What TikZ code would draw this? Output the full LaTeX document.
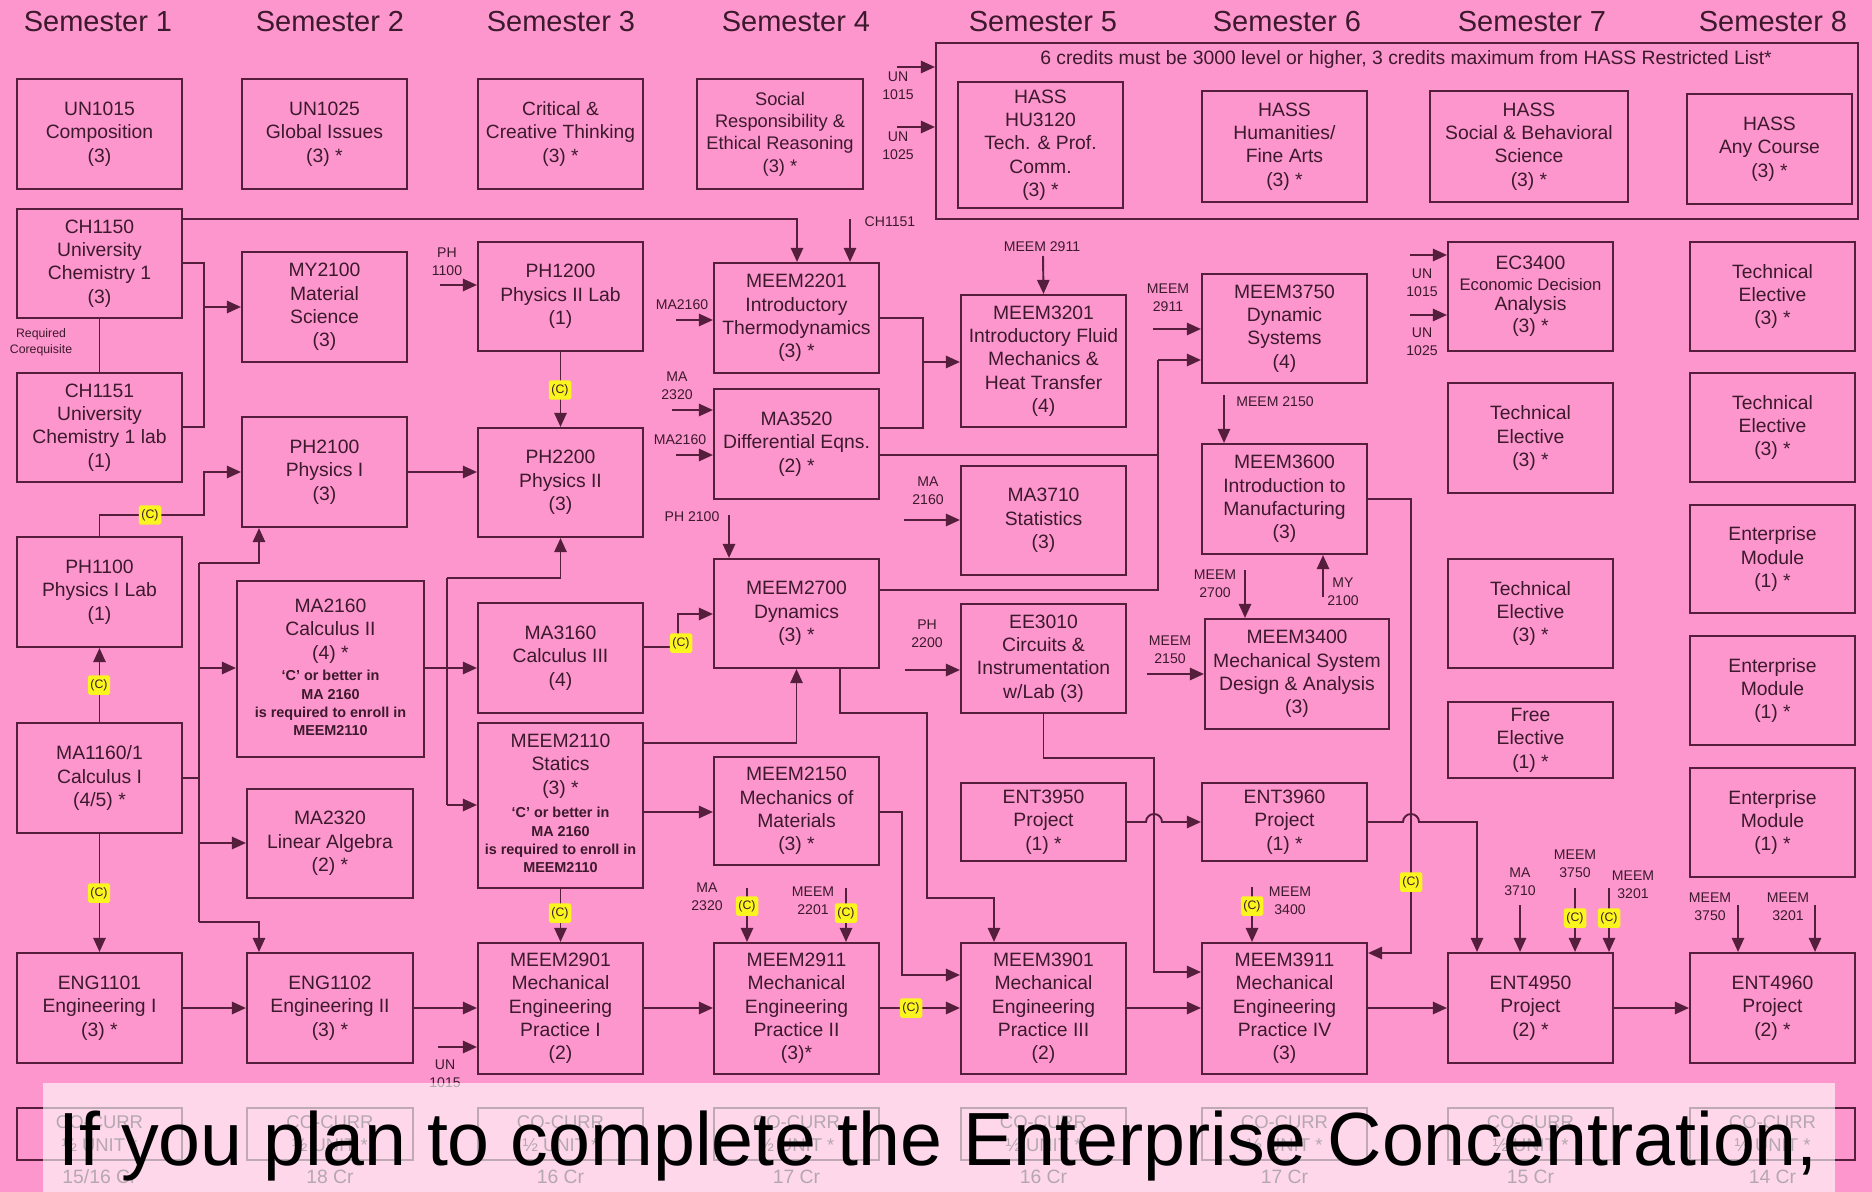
\documentclass[tikz,border=0pt]{standalone}
\usepackage{fontspec}
\setmainfont{Liberation Sans}
\usetikzlibrary{arrows.meta,fit}
\definecolor{bg}{RGB}{253,150,205}
\definecolor{lc}{RGB}{85,30,60}
\definecolor{tc}{RGB}{60,25,45}
\definecolor{yel}{RGB}{250,245,30}
\newcommand\bxf{\fontsize{11}{13.3}\selectfont}
\newcommand\smf{\fontsize{8}{10}\selectfont}
\newcommand\tnf{\fontsize{8.2}{10.4}\selectfont\bfseries}
\newcommand\cbx[7][]{\node[boxf,fit={(#3,#4)(#5,#6)}] (#2) {};
  \node[boxt,#1] (#2t) at (#2.center) {#7};}
\begin{document}
\begin{tikzpicture}[x=0.02cm,y=-0.02cm,
  boxf/.style={draw=lc,line width=1.2pt,inner sep=0pt},
  boxt/.style={inner sep=0pt,align=center,text=tc,font=\bxf},
  tiny/.style={inner sep=0pt,align=center,text=tc,font=\tnf},
  ln/.style={draw=lc,line width=1.1pt},
  arr/.style={draw=lc,line width=1.1pt,-{Triangle[length=8pt,width=7pt]}},
  cc/.style={fill=yel,text=tc,font=\fontsize{7}{8}\selectfont,inner sep=0pt,minimum width=0.45cm,minimum height=0.39cm,rounded corners=1pt},
  lab/.style={text=tc,font=\smf,align=center,inner sep=0pt},
  sem/.style={text=tc,font=\fontsize{16.5}{18}\selectfont,anchor=base,inner sep=0pt},
  crl/.style={text=tc,font=\fontsize{11}{13}\selectfont,inner sep=0pt}]
\fill[bg] (0,0) rectangle (1872,1192);
\useasboundingbox (0,0) rectangle (1872,1192);
% semester headers
\node[sem] (s1) at (98,32) {Semester 1};
\node[sem] (s2) at (330,32) {Semester 2};
\node[sem] (s3) at (561,32) {Semester 3};
\node[sem] (s4) at (796,32) {Semester 4};
\node[sem] (s5) at (1043,32) {Semester 5};
\node[sem] (s6) at (1287,32) {Semester 6};
\node[sem] (s7) at (1532,32) {Semester 7};
\node[sem] (s8) at (1773,32) {Semester 8};
% row 1
\cbx{un1015}{17}{79}{182}{189}{UN1015\\Composition\\(3)}
\cbx{un1025}{242}{79}{407}{189}{UN1025\\Global Issues\\(3) *}
\cbx[font=\fontsize{10.9}{13.3}\selectfont]{crit}{478}{79}{643}{189}{Critical \&\\Creative Thinking\\(3) *}
\cbx[font=\fontsize{10.4}{12.7}\selectfont]{social}{697}{79}{863}{189}{Social\\Responsibility \&\\Ethical Reasoning\\(3) *}
\node[boxf,fit={(936,43)(1858,219)}] (hass) {};
\node[text=tc,font=\fontsize{11}{12}\selectfont,inner sep=0pt] (hasst) at (1406,60) {6 credits must be 3000 level or higher, 3 credits maximum from HASS Restricted List*};
\cbx{hu3120}{958}{82}{1123}{208}{HASS\\HU3120\\Tech. \& Prof.\\Comm.\\(3) *}
\cbx{hum}{1202}{91}{1367}{202}{HASS\\Humanities/\\Fine Arts\\(3) *}
\cbx{socbeh}{1430}{91}{1628}{202}{HASS\\Social \& Behavioral\\Science\\(3) *}
\cbx{anyc}{1687}{94}{1852}{204}{HASS\\Any Course\\(3) *}
% rows
\cbx{ch1150}{17}{209}{182}{318}{CH1150\\University\\Chemistry 1\\(3)}
\cbx{my2100}{242}{252}{407}{362}{MY2100\\Material\\Science\\(3)}
\cbx{ph1200}{478}{242}{643}{351}{PH1200\\Physics II Lab\\(1)}
\cbx{m2201}{714}{263}{879}{373}{MEEM2201\\Introductory\\Thermodynamics\\(3) *}
\cbx{m3201}{961}{295}{1126}{427}{MEEM3201\\Introductory Fluid\\Mechanics \&\\Heat Transfer\\(4)}
\cbx{m3750}{1202}{274}{1367}{383}{MEEM3750\\Dynamic\\Systems\\(4)}
\node[boxf,fit={(1448,242)(1613,351)}] (ec3400) {};
\node[boxt] (ec3400a) at (1530.5,263) {EC3400};
\node[boxt,font=\fontsize{9.5}{12}\selectfont] (ec3400b) at (1530.5,285) {Economic Decision};
\node[boxt] (ec3400c) at (1530.5,306) {Analysis};
\node[boxt] (ec3400d) at (1530.5,328) {(3) *};
\cbx{te8a}{1690}{242}{1855}{351}{Technical\\Elective\\(3) *}
\cbx{ch1151}{17}{373}{182}{482}{CH1151\\University\\Chemistry 1 lab\\(1)}
\cbx{ph2100}{242}{417}{407}{527}{PH2100\\Physics I\\(3)}
\cbx{ph2200}{478}{428}{643}{537}{PH2200\\Physics II\\(3)}
\cbx{ma3520}{714}{389}{879}{499}{MA3520\\Differential Eqns.\\(2) *}
\cbx{ma3710}{961}{466}{1126}{575}{MA3710\\Statistics\\(3)}
\cbx{m3600}{1202}{444}{1367}{554}{MEEM3600\\Introduction to\\Manufacturing\\(3)}
\cbx{te7a}{1448}{383}{1613}{493}{Technical\\Elective\\(3) *}
\cbx{te8b}{1690}{373}{1855}{482}{Technical\\Elective\\(3) *}
\cbx{ph1100}{17}{537}{182}{647}{PH1100\\Physics I Lab\\(1)}
\node[boxf,fit={(237,581)(424,757)}] (ma2160) {};
\node[boxt] (ma2160t) at (330.5,631) {MA2160\\Calculus II\\(4) *};
\node[tiny] (ma2160s) at (330.5,703) {`C' or better in\\MA 2160\\is required to enroll in\\MEEM2110};
\cbx{ma3160}{478}{603}{643}{713}{MA3160\\Calculus III\\(4)}
\cbx{m2700}{714}{559}{879}{668}{MEEM2700\\Dynamics\\(3) *}
\cbx{ee3010}{961}{604}{1126}{713}{EE3010\\Circuits \&\\Instrumentation\\w/Lab (3)}
\cbx{m3400}{1205}{619}{1389}{729}{MEEM3400\\Mechanical System\\Design \& Analysis\\(3)}
\cbx{te7b}{1448}{559}{1613}{668}{Technical\\Elective\\(3) *}
\cbx{em1}{1690}{505}{1855}{613}{Enterprise\\Module\\(1) *}
\cbx{em2}{1690}{636}{1855}{745}{Enterprise\\Module\\(1) *}
\cbx{fe}{1448}{702}{1613}{778}{Free\\Elective\\(1) *}
\cbx{ma1160}{17}{723}{182}{833}{MA1160/1\\Calculus I\\(4/5) *}
\cbx{ma2320}{247}{789}{413}{898}{MA2320\\Linear Algebra\\(2) *}
\node[boxf,fit={(478,723)(643,888)}] (m2110) {};
\node[boxt] (m2110t) at (560.5,766) {MEEM2110\\Statics\\(3) *};
\node[tiny] (m2110s) at (560.5,840) {`C' or better in\\MA 2160\\is required to enroll in\\MEEM2110};
\cbx{m2150}{714}{757}{879}{865}{MEEM2150\\Mechanics of\\Materials\\(3) *}
\cbx{ent3950}{961}{783}{1126}{861}{ENT3950\\Project\\(1) *}
\cbx{ent3960}{1202}{783}{1367}{861}{ENT3960\\Project\\(1) *}
\cbx{em3}{1690}{768}{1855}{877}{Enterprise\\Module\\(1) *}
\cbx{eng1101}{17}{953}{182}{1063}{ENG1101\\Engineering I\\(3) *}
\cbx{eng1102}{247}{953}{413}{1063}{ENG1102\\Engineering II\\(3) *}
\cbx{m2901}{478}{943}{643}{1074}{MEEM2901\\Mechanical\\Engineering\\Practice I\\(2)}
\cbx{m2911}{714}{943}{879}{1074}{MEEM2911\\Mechanical\\Engineering\\Practice II\\(3)*}
\cbx{m3901}{961}{943}{1126}{1074}{MEEM3901\\Mechanical\\Engineering\\Practice III\\(2)}
\cbx{m3911}{1202}{943}{1367}{1074}{MEEM3911\\Mechanical\\Engineering\\Practice IV\\(3)}
\cbx{ent4950}{1448}{953}{1613}{1063}{ENT4950\\Project\\(2) *}
\cbx{ent4960}{1690}{953}{1855}{1063}{ENT4960\\Project\\(2) *}
% ---------- connectors ----------
\draw[arr] (ch1150.east |- 0,219) -| (m2201.north -| 797,0);
\draw[arr] (850,219) -- (m2201.north -| 850,0);
\draw[ln] (ch1150.east |- 0,263) -| (204,307);
\draw[ln] (ch1151.east |- 0,427) -| (204,307);
\draw[arr] (204,307) -- (my2100.west |- 0,307);
\draw[ln] (ch1150.south) -- (ch1151.north);
\draw[arr] (440,285) -- (ph1200.west |- 0,285);
\draw[arr] (ph1100.north) |- (204,515) |- (ph2100.west |- 0,472);
\draw[arr] (ma1160.north) -- (ph1100.south);
\draw[arr] (ma1160.south) -- (eng1101.north);
\draw[ln] (ma1160.east |- 0,778) -- (199,778);
\draw[ln] (199,563) -- (199,922);
\draw[arr] (199,563) -| (ph2100.south -| 259,0);
\draw[arr] (199,668) -- (ma2160.west |- 0,668);
\draw[arr] (199,843) -- (ma2320.west |- 0,843);
\draw[arr] (199,922) -| (eng1102.north -| 259,0);
\draw[arr] (ph2100.east |- 0,472) -- (ph2200.west |- 0,472);
\draw[arr] (ph1200.south) -- (ph2200.north);
\draw[arr] (ma2160.east |- 0,668) -- (ma3160.west |- 0,668);
\draw[ln] (447,578) -- (447,805);
\draw[arr] (447,578) -| (ph2200.south);
\draw[arr] (447,805) -- (m2110.west |- 0,805);
\draw[arr] (eng1101.east |- 0,1008) -- (eng1102.west |- 0,1008);
\draw[arr] (eng1102.east |- 0,1008) -- (m2901.west |- 0,1008);
\draw[arr] (438,1047) -- (m2901.west |- 0,1047);
\draw[arr] (m2110.south) -- (m2901.north);
\draw[arr] (m2110.east |- 0,743) -| (m2700.south);
\draw[arr] (m2110.east |- 0,812) -- (m2150.west |- 0,812);
\draw[arr] (ma3160.east |- 0,647) -- (678,647) |- (m2700.west |- 0,614);
\draw[arr] (729,515) -- (m2700.north -| 729,0);
\draw[arr] (676,320) -- (m2201.west |- 0,320);
\draw[arr] (672,410) -- (ma3520.west |- 0,410);
\draw[arr] (676,455) -- (ma3520.west |- 0,455);
\draw[ln] (m2201.east |- 0,318) -| (923,362);
\draw[ln] (ma3520.east |- 0,428) -| (923,362);
\draw[arr] (923,362) -- (m3201.west |- 0,362);
\draw[arr] (1043,256) -- (m3201.north);
\draw[ln] (ma3520.east |- 0,455) -| (1158,360);
\draw[ln] (m2700.east |- 0,590) -| (1158,360);
\draw[arr] (1158,360) -- (m3750.west |- 0,360);
\draw[arr] (1153,329) -- (m3750.west |- 0,329);
\draw[arr] (904,520) -- (ma3710.west |- 0,520);
\draw[arr] (905,670) -- (ee3010.west |- 0,670);
\draw[arr] (1224,395) -- (m3600.north -| 1224,0);
\draw[arr] (1245,570) -- (m3400.north -| 1245,0);
\draw[arr] (1323,597) -- (m3600.south -| 1323,0);
\draw[arr] (1147,674) -- (m3400.west |- 0,674);
\draw[arr] (ee3010.south) |- (1154,758) |- (m3911.west |- 0,972);
\draw[arr] (ent3950.east |- 0,822) -- (1146,822) arc[start angle=180,end angle=360,radius=8] -- (ent3960.west |- 0,822);
\draw[arr] (ent3960.east |- 0,822) -- (1403,822) arc[start angle=180,end angle=360,radius=8] -- (1477,822) -- (ent4950.north -| 1477,0);
\draw[arr] (m3600.east |- 0,499) -| (1411,953) -- (m3911.east |- 0,953);
\draw[arr] (m2700.south -| 840,0) |- (927,713) |- (994,898) -- (m3901.north -| 994,0);
\draw[arr] (m2150.east |- 0,812) -| (902,975) -- (m3901.west |- 0,975);
\draw[arr] (m2901.east |- 0,1008) -- (m2911.west |- 0,1008);
\draw[arr] (m2911.east |- 0,1008) -- (m3901.west |- 0,1008);
\draw[arr] (m3901.east |- 0,1008) -- (m3911.west |- 0,1008);
\draw[arr] (m3911.east |- 0,1008) -- (ent4950.west |- 0,1008);
\draw[arr] (ent4950.east |- 0,1008) -- (ent4960.west |- 0,1008);
\draw[arr] (747,888) -- (m2911.north -| 747,0);
\draw[arr] (846,888) -- (m2911.north -| 846,0);
\draw[arr] (1252,887) -- (m3911.north -| 1252,0);
\draw[arr] (1520,905) -- (ent4950.north -| 1520,0);
\draw[arr] (1575,888) -- (ent4950.north -| 1575,0);
\draw[arr] (1609,888) -- (ent4950.north -| 1609,0);
\draw[arr] (1738,905) -- (ent4960.north -| 1738,0);
\draw[arr] (1815,905) -- (ent4960.north -| 1815,0);
\draw[arr] (897,67) -- (hass.west |- 0,67);
\draw[arr] (897,127) -- (hass.west |- 0,127);
\draw[arr] (1410,255) -- (ec3400.west |- 0,255);
\draw[arr] (1410,315) -- (ec3400.west |- 0,315);
% (C) marks
\foreach \p/\q [count=\k] in {150/515, 99/685, 99/893, 560/390, 560/913, 681/643, 747/906, 846/913, 911/1008, 1252/906, 1411/882, 1575/918, 1609/918}
  \node[cc] (c\k) at (\p,\q) {(C)};
% labels
\node[lab] (l1) at (898,86) {UN\\1015};
\node[lab] (l2) at (898,146) {UN\\1025};
\node[lab] (l3) at (890,222) {CH1151};
\node[lab] (l4) at (447,262) {PH\\1100};
\node[lab] (l5) at (682,305) {MA2160};
\node[lab] (l6) at (677,386) {MA\\2320};
\node[lab] (l7) at (680,440) {MA2160};
\node[lab] (l8) at (692,517) {PH 2100};
\node[lab] (l9) at (1042,247) {MEEM 2911};
\node[lab] (l10) at (1168,298) {MEEM\\2911};
\node[lab] (l11) at (1275,402) {MEEM 2150};
\node[lab] (l12) at (928,491) {MA\\2160};
\node[lab] (l13) at (927,634) {PH\\2200};
\node[lab] (l14) at (1215,584) {MEEM\\2700};
\node[lab] (l15) at (1343,592) {MY\\2100};
\node[lab] (l16) at (1170,650) {MEEM\\2150};
\node[lab] (l17) at (1422,283) {UN\\1015};
\node[lab] (l18) at (1422,342) {UN\\1025};
\node[lab] (l19) at (445,1074) {UN\\1015};
\node[lab] (l20) at (707,897) {MA\\2320};
\node[lab] (l21) at (813,901) {MEEM\\2201};
\node[lab] (l22) at (1290,901) {MEEM\\3400};
\node[lab] (l23) at (1520,882) {MA\\3710};
\node[lab] (l24) at (1575,864) {MEEM\\3750};
\node[lab] (l25) at (1633,885) {MEEM\\3201};
\node[lab] (l26) at (1710,907) {MEEM\\3750};
\node[lab] (l27) at (1788,907) {MEEM\\3201};
\node[lab,font=\fontsize{7}{9}\selectfont] (l28) at (41,342) {Required\\Corequisite};
% co-curricular row
\foreach \a/\b/\n/\c in {17/182/1/15\slash 16 Cr, 247/413/2/18 Cr, 478/643/3/16 Cr, 714/879/4/17 Cr, 961/1126/5/16 Cr, 1202/1367/6/17 Cr, 1448/1613/7/15 Cr, 1690/1855/8/14 Cr}{
  \node[boxf,fit={(\a,1108)(\b,1160)}] (co\n) {};
  \node[boxt,font=\fontsize{10.5}{13}\selectfont] (co\n t) at (co\n.center) {CO-CURR\\½ UNIT *};
  \node[crl] (cr\n) at ({(\a+\b)/2},1177) {\c};
}
% overlay band
\fill[white,opacity=0.62] (43,1083) rectangle (1835,1192);
\node[anchor=base west,inner sep=0pt,text=black,font=\fontsize{42.9}{50}\selectfont] (big) at (58,1165) {If you plan to complete the Enterprise Concentration,};
\end{tikzpicture}
\end{document}
